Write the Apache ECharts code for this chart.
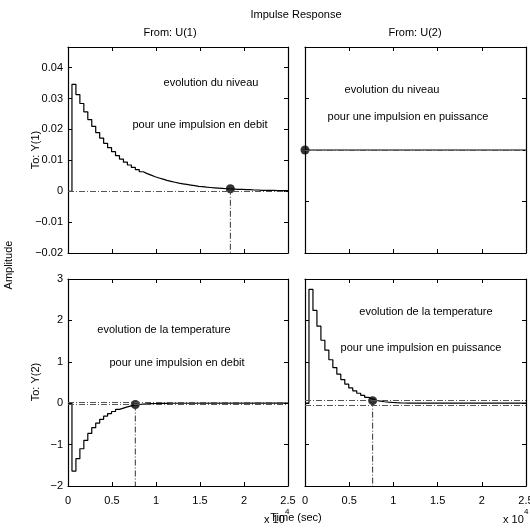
<!DOCTYPE html>
<html>
<head>
<meta charset="utf-8">
<script src="https://cdn.jsdelivr.net/npm/echarts@6/dist/echarts.min.js"></script>
<style>
  html, body { margin: 0; padding: 0; background: #fff; }
  #graphique { width: 530px; height: 528px; }
</style>
</head>
<body>
<div id="graphique"></div>
<script>
// periode d'echantillonnage (s)
const tempsEch = 450;

// reponses impulsionnelles (un point par echantillon)
const niveauDebit = [
  0, 0.0346, 0.0313, 0.0284, 0.0257, 0.0232, 0.0210, 0.0190, 0.0172, 0.0155, 0.0141,
  0.0128, 0.0115, 0.0104, 0.0094, 0.0085, 0.0077, 0.0070, 0.0063, 0.0057, 0.0052,
  0.0047, 0.0043, 0.0039, 0.0035, 0.0032, 0.0029, 0.0026, 0.0024, 0.0022, 0.0020,
  0.0018, 0.0016, 0.0015, 0.0013, 0.0012, 0.0011, 0.0010, 0.0009, 0.0008, 0.0008,
  0.0007, 0.0006, 0.0006, 0.0005, 0.0005, 0.0004, 0.0004, 0.0003, 0.0003, 0.0003,
  0.0003, 0.0002, 0.0002, 0.0002, 0.0002
];
const niveauPuissance = [0, 0];
const temperatureDebit = [
  0, -1.64, -1.34, -1.10, -0.90, -0.73, -0.59, -0.48, -0.39, -0.31, -0.25,
  -0.20, -0.15, -0.12, -0.09, -0.065, -0.045, -0.032, -0.022, -0.015, -0.010,
  -0.007, -0.005, -0.003, -0.002, -0.001, 0
];
const temperaturePuissance = [
  0, 2.75, 2.24, 1.86, 1.52, 1.28, 1.05, 0.86, 0.70, 0.57, 0.46,
  0.37, 0.30, 0.24, 0.19, 0.14, 0.10, 0.065, 0.05, 0.035, 0.025,
  0.018, 0.012, 0.008, 0.005, 0.003, 0.002, 0.001, 0
];

// temps de reponse (point noir) et bande de tolerance
const tempsReponse = [18450, 0, 7650, 7650];
const valeurReponse = [0.0008, 0, -0.032, 0.062];
const bandes = [0.0007, 0, 0.033, 0.055];

// echelles verticales : [min, max, pas]
const echellesY = [[-0.02, 0.0467, 0.01], [-1, 1, 0.5], [-2, 3, 1], [-2, 3, 1]];
const tempsMax = 25000;
const pasTemps = 5000;

const entrees = ["From: U(1)", "From: U(2)"];
const sorties = ["To: Y(1)", "To: Y(2)"];
const textes = [
  ["evolution du niveau", "pour une impulsion en debit"],
  ["evolution du niveau", "pour une impulsion en puissance"],
  ["evolution de la temperature", "pour une impulsion en debit"],
  ["evolution de la temperature", "pour une impulsion en puissance"]
];

const reponses = [niveauDebit, niveauPuissance, temperatureDebit, temperaturePuissance];

const police = "Liberation Sans";
const tirets = [6, 2, 1, 2];

const grilles = [
  { left: 68, top: 47, width: 220, height: 206 },
  { left: 305, top: 47, width: 221, height: 206 },
  { left: 68, top: 279, width: 220, height: 207 },
  { left: 305, top: 279, width: 221, height: 207 }
];

function versEscalier(valeurs) {
  const pts = valeurs.map((v, i) => [i * tempsEch, v]);
  pts.push([tempsMax, valeurs[valeurs.length - 1]]);
  return pts;
}

function formatY(v) {
  const r = Math.round(v * 1000) / 1000;
  return r.toString().replace("-", "\u2212");
}

var xAxes = [];
var yAxes = [];
var series = [];

grilles.forEach((g, i) => {
  const bas = i >= 2;
  const gauche = i % 2 === 0;
  const [ymin, ymax, ypas] = echellesY[i];

  xAxes.push({
    gridIndex: i, type: "value", position: "bottom",
    min: 0, max: tempsMax, interval: pasTemps,
    axisLine: { onZero: false, lineStyle: { color: "#000", width: 1.2 } },
    axisTick: { inside: true, length: 4, lineStyle: { color: "#000" } },
    axisLabel: {
      show: bas, margin: 9, color: "#000", fontSize: 11, fontFamily: police,
      formatter: (v) => (v / 10000).toString()
    },
    splitLine: { show: false }
  });
  xAxes.push({
    gridIndex: i, type: "value", position: "top",
    min: 0, max: tempsMax, interval: pasTemps,
    axisLine: { onZero: false, lineStyle: { color: "#000", width: 1.2 } },
    axisTick: { inside: true, length: 4, lineStyle: { color: "#000" } },
    axisLabel: { show: false },
    splitLine: { show: false }
  });
  yAxes.push({
    gridIndex: i, type: "value", position: "left",
    min: ymin, max: ymax, interval: ypas,
    axisLine: { show: true, onZero: false, lineStyle: { color: "#000", width: 1.2 } },
    axisTick: { show: true, inside: true, length: 4, lineStyle: { color: "#000" } },
    axisLabel: {
      show: gauche, margin: 5, color: "#000", fontSize: 11, fontFamily: police,
      showMaxLabel: i !== 0, formatter: formatY
    },
    splitLine: { show: false }
  });
  yAxes.push({
    gridIndex: i, type: "value", position: "right",
    min: ymin, max: ymax, interval: ypas,
    axisLine: { show: true, onZero: false, lineStyle: { color: "#000", width: 1.2 } },
    axisTick: { show: true, inside: true, length: 4, lineStyle: { color: "#000" } },
    axisLabel: { show: false },
    splitLine: { show: false }
  });

  const bandeLignes = bandes[i] === 0
    ? [{ yAxis: 0 }]
    : [{ yAxis: bandes[i] }, { yAxis: -bandes[i] }];

  series.push({
    type: "line", xAxisIndex: 2 * i, yAxisIndex: 2 * i,
    step: "end", showSymbol: false, silent: true,
    data: versEscalier(reponses[i]),
    lineStyle: { color: "#000", width: 1.2 },
    markLine: {
      silent: true, symbol: "none", label: { show: false },
      lineStyle: { color: "#555", width: 1, type: tirets },
      data: bandeLignes
    }
  });

  if (tempsReponse[i] > 0) {
    series.push({
      type: "line", xAxisIndex: 2 * i, yAxisIndex: 2 * i,
      showSymbol: false, silent: true,
      data: [[tempsReponse[i], valeurReponse[i]], [tempsReponse[i], ymin]],
      lineStyle: { color: "#333", width: 1, type: tirets }
    });
  }

  series.push({
    type: "scatter", xAxisIndex: 2 * i, yAxisIndex: 2 * i,
    clip: false, silent: true, symbolSize: 9,
    itemStyle: { color: "#000" },
    data: [[tempsReponse[i], valeurReponse[i]]]
  });
});

// textes places sur la figure
const styleTexte = (txt, extra) => Object.assign({
  text: txt, fill: "#000", fontSize: 11, fontFamily: police,
  textAlign: "center", textVerticalAlign: "middle"
}, extra || {});

const positionsTextes = [
  [[211, 83], [200, 125]],
  [[392, 90], [408, 117]],
  [[164, 330], [177, 363]],
  [[426, 312], [421, 348]]
];

var graphic = [
  { type: "text", x: 296, y: 15, style: styleTexte("Impulse Response") },
  { type: "text", x: 170, y: 33, style: styleTexte(entrees[0]) },
  { type: "text", x: 415, y: 33, style: styleTexte(entrees[1]) },
  { type: "text", x: 36, y: 150, rotation: Math.PI / 2, style: styleTexte(sorties[0]) },
  { type: "text", x: 36, y: 382, rotation: Math.PI / 2, style: styleTexte(sorties[1]) },
  { type: "text", x: 9, y: 265, rotation: Math.PI / 2, style: styleTexte("Amplitude") },
  { type: "text", x: 264, y: 520, style: styleTexte("x 10", { textAlign: "left" }) },
  { type: "text", x: 285, y: 512, style: styleTexte("4", { textAlign: "left", fontSize: 8 }) },
  { type: "text", x: 296, y: 518, style: styleTexte("Time (sec)") },
  { type: "text", x: 503, y: 520, style: styleTexte("x 10", { textAlign: "left" }) },
  { type: "text", x: 524, y: 512, style: styleTexte("4", { textAlign: "left", fontSize: 8 }) }
];
textes.forEach((paire, i) => {
  paire.forEach((t, j) => {
    const [x, y] = positionsTextes[i][j];
    graphic.push({ type: "text", x: x, y: y, style: styleTexte(t) });
  });
});

const dom = document.getElementById("graphique");
const myChart = echarts.init(dom, null, { renderer: "canvas" });
myChart.setOption({
  animation: false,
  backgroundColor: "#fff",
  grid: grilles.map((g) => Object.assign({ containLabel: false, outerBoundsMode: "none" }, g)),
  xAxis: xAxes,
  yAxis: yAxes,
  series: series,
  graphic: graphic
});
</script>
</body>
</html>
